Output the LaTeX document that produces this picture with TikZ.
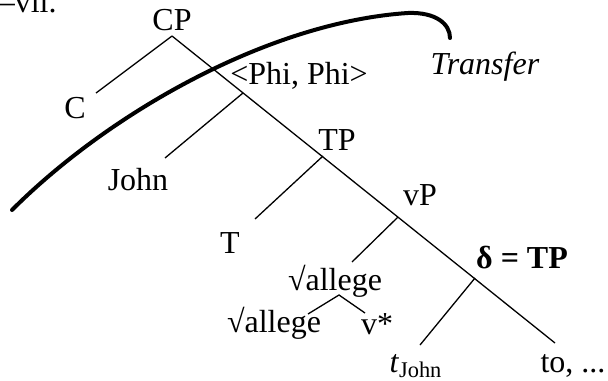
\documentclass[tikz,border=0pt]{standalone}
\usepackage{fontspec}
\setmainfont{Liberation Serif}
\usetikzlibrary{positioning}

\begin{document}
\begin{tikzpicture}[
    x=0.5pt, y=-0.5pt,
    font=\fontsize{16}{19}\selectfont,
    cat/.style={anchor=base, inner sep=1pt},
    branch/.style={draw=black, line width=0.65pt},
    transfer/.style={draw=black, line width=2pt, line cap=round}
]
\useasboundingbox (0,0) rectangle (608,380);

% Cut-off text at the top left
\node[anchor=base east, inner sep=0pt] (prev) at (57,12) {–vii.};

% Labels of the tree
\node[cat] (CP)    at (172,30)  {CP};
\node[cat] (C)     at (75,118)  {C};
\node[cat] (phi)   at (299,84)  {<Phi, Phi>};
\node[cat] (John)  at (138,190) {John};
\node[cat] (TP)    at (337,150) {TP};
\node[cat] (T)     at (230,253) {T};
\node[cat] (vP)    at (420,205) {vP};
\node[cat] (root)  at (335,290) {√allege};
\node[cat] (rootl) at (274,332) {√allege};
\node[cat] (vstar) at (377,334) {v*};
\node[cat] (delta) at (522,268) {\textbf{δ = TP}};
\node[cat] (trace) at (416,372) {\textit{t}\textsubscript{John}};
\node[cat] (to)    at (573,372) {to, ...};
\node[cat] (trans) at (485,74)  {\textit{Transfer}};

% Junctions and branch ends
\coordinate (cpTop) at (172,36);
\coordinate (spineEnd) at (555,343);
\coordinate (cEnd) at (96,93);
\coordinate (jPhi) at (243,93);
\coordinate (johnEnd) at (165,158);
\coordinate (jTP) at (323,156);
\coordinate (tEnd) at (255,219);
\coordinate (jvP) at (398,217);
\coordinate (rootEnd) at (352,262);
\coordinate (jDelta) at (475,278);
\coordinate (traceEnd) at (420,345);
\coordinate (jRoot) at (339,295);
\coordinate (rootlEnd) at (308,314);
\coordinate (vstarEnd) at (365,313);

% Branches
\draw[branch] (cpTop) -- (spineEnd);
\draw[branch] (cpTop) -- (cEnd);
\draw[branch] (jPhi) -- (johnEnd);
\draw[branch] (jTP) -- (tEnd);
\draw[branch] (jvP) -- (rootEnd);
\draw[branch] (jDelta) -- (traceEnd);
\draw[branch] (rootlEnd) -- (jRoot) -- (vstarEnd);

% Transfer boundary
\coordinate (trStart) at (12,210);
\coordinate (trTop) at (408,13);
\coordinate (trEnd) at (450,38);
\draw[transfer] (trStart) .. controls (110,112) and (270,22) .. (trTop)
    .. controls (436,12) and (450,24) .. (trEnd);

\end{tikzpicture}
\end{document}
